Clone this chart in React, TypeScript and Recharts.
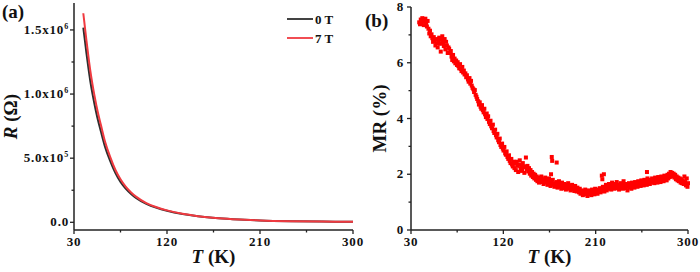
import React from 'react'
import {
  LineChart,
  Line,
  ScatterChart,
  Scatter,
  XAxis,
  YAxis,
  Legend,
  Label,
} from 'recharts'

// panel (a): R(T) at 0 T and 7 T
const rTemps = [39, 40, 42, 44, 46, 48, 50, 53, 56, 60, 65, 70, 75, 80, 85, 90, 100, 110, 120, 135, 150, 170, 190, 210, 240, 270, 300]
const rZeroField = [1518000, 1453000, 1322000, 1201000, 1090000, 997000, 915000, 803000, 710000, 590000, 478000, 385000, 314000, 263000, 223000, 190000, 144000, 113000, 90000, 64500, 47000, 31500, 21700, 14800, 8900, 5900, 3900]
const rSevenField = [1630000, 1560000, 1420000, 1290000, 1170000, 1070000, 980000, 860000, 760000, 630000, 510000, 410000, 335000, 278000, 235000, 200000, 150000, 117000, 93000, 66000, 48000, 32000, 22000, 15000, 9000, 6000, 4000]

// panel (b): MR(T) as [T, MR]
const mrLow: [number, number][] = [
  [38.0, 7.45], [38.8, 7.38], [39.5, 7.55], [40.2, 7.42], [41.0, 7.6], [41.8, 7.48], [42.5, 7.35], [43.2, 7.52],
  [44.0, 7.58], [44.8, 7.4], [45.5, 7.3], [46.2, 7.5], [47.0, 7.22], [47.8, 7.05], [48.5, 7.15], [49.2, 6.95],
  [50.0, 7.02], [50.8, 6.88], [51.5, 6.75], [52.2, 6.92], [53.0, 6.8], [53.8, 6.62], [54.5, 6.85], [55.2, 6.7],
  [56.0, 6.55], [56.8, 6.78], [57.5, 6.9], [58.2, 6.68], [59.0, 6.4], [59.8, 6.82], [60.5, 6.95], [61.2, 6.72],
  [62.0, 6.6], [62.8, 6.85], [63.5, 6.48], [64.2, 6.75], [65.0, 6.62], [65.8, 6.35], [66.5, 6.55],
  [67.2, 6.5], [68.0, 6.35], [68.8, 6.42], [69.5, 6.22], [70.2, 6.1], [71.0, 6.28], [71.8, 6.05], [72.5, 6.15],
  [73.2, 5.98], [74.0, 6.08], [74.8, 5.92], [75.5, 6.02], [76.2, 5.88], [77.0, 5.8], [77.8, 5.95], [78.5, 5.78],
  [79.2, 5.7], [80.0, 5.85], [80.8, 5.65], [81.5, 5.72], [82.2, 5.58], [83.0, 5.62], [83.8, 5.48], [84.5, 5.55],
  [85.5, 5.4], [86.2, 5.32], [87.0, 5.45], [87.8, 5.25], [88.5, 5.35], [89.2, 5.18], [90.0, 5.1], [90.8, 5.05],
  [91.5, 4.95], [92.2, 5.02], [93.0, 4.85], [93.8, 4.78], [94.5, 4.7],
]
const mrMid: [number, number][] = [
  [95.5, 4.62], [96.2, 4.5], [97.0, 4.58], [97.8, 4.42], [98.5, 4.35], [99.2, 4.48], [100.0, 4.3], [100.8, 4.22],
  [101.5, 4.35], [102.2, 4.15], [103.0, 4.05], [103.8, 4.18], [104.5, 3.98], [105.2, 4.08], [106.0, 3.88], [106.8, 3.8],
  [107.5, 3.92], [108.2, 3.72], [109.0, 3.65], [109.8, 3.78], [110.5, 3.55], [111.2, 3.48], [112.0, 3.6], [112.8, 3.4],
  [113.5, 3.32], [114.2, 3.45], [115.0, 3.22], [115.8, 3.15], [116.5, 3.28], [117.2, 3.05], [118.0, 2.98], [118.8, 3.1],
  [119.5, 2.92], [120.2, 2.85], [121.0, 2.98], [121.8, 2.75], [122.5, 2.7], [123.2, 2.82], [124.0, 2.62], [124.8, 2.55],
  [125.5, 2.68], [126.2, 2.48], [127.0, 2.4], [127.8, 2.55], [128.5, 2.35], [129.2, 2.28], [130.0, 2.45],
  [130.8, 2.22], [131.5, 2.38], [132.2, 2.15], [133.0, 2.45], [133.8, 2.3], [134.5, 2.08], [135.2, 2.35], [136.0, 2.5],
  [136.8, 2.2], [137.5, 2.32], [138.2, 2.12], [139.0, 2.4], [139.8, 2.25], [140.5, 2.05], [141.2, 2.28], [142.0, 2.6],
  [142.8, 2.18], [143.5, 2.3], [144.2, 2.1], [145.0, 2.22], [145.8, 2.02], [146.5, 2.15], [147.2, 1.95], [148.0, 2.08],
  [148.8, 1.9], [149.5, 2.02], [150.2, 1.85], [151.0, 1.98], [151.8, 1.8], [152.5, 1.92], [153.2, 1.75], [154.0, 1.88],
  [154.8, 1.7], [155.5, 1.85], [156.2, 1.78], [157.0, 1.92], [157.8, 1.72], [158.5, 1.82], [159.2, 1.65], [160.0, 1.8],
  [160.8, 1.88], [161.5, 1.7], [162.2, 1.78], [163.0, 1.62], [163.8, 1.75], [164.5, 1.85], [165.2, 1.68], [166.0, 1.58],
  [166.8, 1.72], [167.5, 1.65], [168.2, 1.8], [169.0, 1.62], [169.8, 1.55],
  [170.5, 1.68], [171.2, 1.58], [172.0, 1.72], [172.8, 1.52], [173.5, 1.65], [174.2, 1.75], [175.0, 1.55], [175.8, 1.62],
  [176.5, 1.48], [177.2, 1.7], [178.0, 1.58], [178.8, 1.5], [179.5, 1.65], [180.2, 1.55], [181.0, 1.45], [181.8, 1.62],
  [182.5, 1.52], [183.2, 1.68], [184.0, 1.48], [184.8, 1.58], [185.5, 1.42], [186.2, 1.55], [187.0, 1.62], [187.8, 1.45],
  [188.5, 1.52], [189.2, 1.4], [190.0, 1.58], [190.8, 1.48], [191.5, 1.38], [192.2, 1.52], [193.0, 1.42], [193.8, 1.35],
  [194.5, 1.48], [195.2, 1.3], [196.0, 1.42], [196.8, 1.35], [197.5, 1.25], [198.2, 1.4], [199.0, 1.32], [199.8, 1.45],
  [200.5, 1.28], [201.2, 1.38], [202.0, 1.22], [202.8, 1.35], [203.5, 1.42], [204.2, 1.28], [205.0, 1.38], [205.8, 1.25],
  [206.5, 1.45], [207.2, 1.32], [208.0, 1.4], [208.8, 1.28], [209.5, 1.48], [210.2, 1.35], [211.0, 1.42], [211.8, 1.3],
  [212.5, 1.45], [213.2, 1.38], [214.0, 1.5], [214.8, 1.35],
]
const mrHigh: [number, number][] = [
  [215.5, 1.48], [216.2, 1.4], [217.0, 1.55], [217.8, 1.45], [218.5, 1.38], [219.2, 1.52], [220.0, 1.62], [220.8, 1.42],
  [221.5, 1.55], [222.2, 1.48], [223.0, 1.65], [223.8, 1.5], [224.5, 1.58], [225.2, 1.45], [226.0, 1.7], [226.8, 1.52],
  [227.5, 1.6], [228.2, 1.48], [229.0, 1.65], [229.8, 1.55], [230.5, 1.72], [231.2, 1.5], [232.0, 1.62], [232.8, 1.45],
  [233.5, 1.58], [234.2, 1.68], [235.0, 1.52], [235.8, 1.62], [236.5, 1.48], [237.2, 1.75], [238.0, 1.55], [238.8, 1.65],
  [239.5, 1.5], [240.2, 1.6], [241.0, 1.42], [241.8, 1.58], [242.5, 1.68], [243.2, 1.52], [244.0, 1.62], [244.8, 1.48],
  [245.5, 1.7], [246.2, 1.58], [247.0, 1.65], [247.8, 1.52], [248.5, 1.72], [249.2, 1.6], [250.0, 1.68], [250.8, 1.55],
  [251.5, 1.75], [252.2, 1.62], [253.0, 1.7], [253.8, 1.58], [254.5, 1.78], [255.2, 1.65], [256.0, 1.72], [256.8, 1.6],
  [257.5, 1.8], [258.2, 1.68], [259.0, 1.75], [259.8, 1.62], [260.5, 1.85], [261.2, 1.72], [262.0, 1.8], [262.8, 1.65],
  [263.5, 1.78], [264.2, 1.7], [265.0, 1.85], [265.8, 1.72], [266.5, 1.8], [267.2, 1.68], [268.0, 1.88], [268.8, 1.75],
  [269.5, 1.82], [270.2, 1.7], [271.0, 1.9], [271.8, 1.78], [272.5, 1.85], [273.2, 1.72], [274.0, 1.92], [274.8, 1.8],
  [275.5, 1.88], [276.2, 1.75], [277.0, 1.95], [277.8, 1.82], [278.5, 1.9], [279.2, 1.78], [280.0, 1.98], [280.8, 1.85],
  [281.5, 2.02], [282.2, 1.9], [283.0, 2.08], [283.8, 1.95], [284.5, 2.05], [285.2, 1.92], [286.0, 2.02], [286.8, 1.88],
  [287.5, 1.98], [288.2, 1.82], [289.0, 1.92], [289.8, 1.78], [290.5, 1.88], [291.2, 1.75], [292.0, 1.85], [292.8, 1.7],
  [293.5, 1.82], [294.2, 1.68], [295.0, 1.78], [295.8, 1.65], [296.5, 1.92], [297.2, 1.72], [298.0, 1.6], [298.8, 1.85],
  [299.5, 1.55], [300.0, 1.68],
]
const mrOutliers: [number, number][] = [
  [166.5, 2.0], [167.2, 2.62], [167.6, 2.48], [172.0, 2.42], [216.0, 1.95], [216.5, 1.82], [218.0, 2.0], [260.0, 2.08],
]

const tMajor = [30, 120, 210, 300]
const tTicks = [30, 75, 120, 165, 210, 255, 300]
const rTicks = [0, 250000, 500000, 750000, 1000000, 1250000, 1500000]
const rLabels: Record<number, [string, string]> = {
  0: ['0.0', ''],
  500000: ['5.0x10', '5'],
  1000000: ['1.0x10', '6'],
  1500000: ['1.5x10', '6'],
}
const mrTicks = [0, 1, 2, 3, 4, 5, 6, 7, 8]

const AXIS = '#222'
const txt = { fontFamily: 'Liberation Serif', fontWeight: 700, fill: '#111' }
const tickTxt = { ...txt, fontSize: 13, letterSpacing: 0.8 }

const rData = rTemps.map((T, i) => ({ T, r0: rZeroField[i], r7: rSevenField[i] }))
const mrData = [...mrLow, ...mrMid, ...mrHigh, ...mrOutliers].map(([T, MR]) => ({ T, MR }))

function TTick({ x, y, payload }: any) {
  const major = tMajor.includes(payload.value)
  return (
    <g>
      <line x1={x} y1={y} x2={x} y2={y + (major ? 4 : 2.5)} stroke={AXIS} strokeWidth={1.3} />
      {major && (
        <text x={x} y={y + 16} textAnchor="middle" style={tickTxt}>
          {payload.value}
        </text>
      )}
    </g>
  )
}

function RTick({ x, y, payload }: any) {
  const lab = rLabels[payload.value]
  return (
    <g>
      <line x1={x} y1={y} x2={x - (lab ? 4 : 2.5)} y2={y} stroke={AXIS} strokeWidth={1.3} />
      {lab && (
        <text x={x - 5} y={y + 4} textAnchor="end" style={tickTxt}>
          {lab[0]}
          {lab[1] && (
            <tspan style={{ fontSize: 8 }} dy={-5}>
              {lab[1]}
            </tspan>
          )}
        </text>
      )}
    </g>
  )
}

function MrTick({ x, y, payload }: any) {
  const major = payload.value % 2 === 0
  return (
    <g>
      <line x1={x} y1={y} x2={x - (major ? 4 : 2.5)} y2={y} stroke={AXIS} strokeWidth={1.3} />
      {major && (
        <text x={x - 7} y={y + 4} textAnchor="end" style={tickTxt}>
          {payload.value}
        </text>
      )}
    </g>
  )
}

function LegendBox({ payload }: any) {
  return (
    <svg width={60} height={40}>
      {(payload || []).map((p: any, i: number) => (
        <g key={p.value}>
          <line x1={2} x2={28} y1={11 + i * 19} y2={11 + i * 19} stroke={p.color} strokeWidth={1.8} />
          <text x={30} y={15.5 + i * 19} style={{ ...txt, fontSize: 13 }}>
            {p.value}
          </text>
        </g>
      ))}
    </svg>
  )
}

const square = (p: any) => <rect x={p.cx - 2} y={p.cy - 2} width={4} height={4} fill="#ff0000" />

function TTitle({ viewBox }: any) {
  return (
    <text x={viewBox.x + viewBox.width / 2} y={viewBox.y + 33} textAnchor="middle" style={{ ...txt, fontSize: 19 }}>
      <tspan style={{ fontStyle: 'italic' }}>T</tspan> (K)
    </text>
  )
}

export default function App() {
  return (
    <div style={{ position: 'absolute', left: 0, top: 0, width: 700, height: 272, background: '#fff' }}>
      <div style={{ position: 'absolute', left: 0, top: 0 }}>
        <LineChart width={372} height={272} data={rData} margin={{ top: 3, right: 19, bottom: 0, left: 0 }}>
          <XAxis
            type="number"
            dataKey="T"
            domain={[30, 300]}
            ticks={tTicks}
            interval={0}
            height={42}
            tickSize={0}
            tickMargin={0}
            tickLine={false}
            axisLine={{ stroke: AXIS, strokeWidth: 1.5 }}
            tick={(p: any) => <TTick {...p} />}
          >
            <Label content={(p: any) => <TTitle {...p} />} />
          </XAxis>
          <XAxis xAxisId="top" orientation="top" type="number" domain={[30, 300]} height={0} tick={false} tickLine={false} axisLine={{ stroke: AXIS, strokeWidth: 1.5 }} />
          <YAxis
            type="number"
            domain={[-60000, 1710000]}
            ticks={rTicks}
            interval={0}
            width={74}
            tickSize={0}
            tickMargin={0}
            tickLine={false}
            axisLine={{ stroke: AXIS, strokeWidth: 1.5 }}
            tick={(p: any) => <RTick {...p} />}
          >
            <Label
              content={({ viewBox }: any) => (
                <g>
                  <text transform={`translate(17, ${viewBox.y + viewBox.height / 2}) rotate(-90)`} textAnchor="middle" style={{ ...txt, fontSize: 19 }}>
                    <tspan style={{ fontStyle: 'italic' }}>R</tspan> (Ω)
                  </text>
                  <text x={2} y={18} style={{ ...txt, fontSize: 19 }}>
                    (a)
                  </text>
                </g>
              )}
            />
          </YAxis>
          <YAxis yAxisId="right" orientation="right" type="number" domain={[-60000, 1710000]} width={0} tick={false} tickLine={false} axisLine={{ stroke: AXIS, strokeWidth: 1.5 }} />
          <Legend
            layout="vertical"
            verticalAlign="middle"
            align="center"
            content={(p: any) => <LegendBox {...p} />}
            wrapperStyle={{ position: 'absolute', top: 8, left: 285, width: 60, height: 40 }}
          />
          <Line type="monotone" dataKey="r0" name="0 T" stroke="#2e2e2e" strokeWidth={2} dot={false} isAnimationActive={false} />
          <Line type="monotone" dataKey="r7" name="7 T" stroke="#f03a40" strokeWidth={2} dot={false} isAnimationActive={false} />
        </LineChart>
      </div>
      <div style={{ position: 'absolute', left: 350, top: 0 }}>
        <ScatterChart width={350} height={272} margin={{ top: 7, right: 12, bottom: 0, left: 0 }}>
          <XAxis
            type="number"
            dataKey="T"
            domain={[30, 300]}
            ticks={tTicks}
            interval={0}
            height={42}
            tickSize={0}
            tickMargin={0}
            tickLine={false}
            axisLine={{ stroke: AXIS, strokeWidth: 1.5 }}
            tick={(p: any) => <TTick {...p} />}
          >
            <Label content={(p: any) => <TTitle {...p} />} />
          </XAxis>
          <XAxis xAxisId="top" orientation="top" type="number" domain={[30, 300]} height={0} tick={false} tickLine={false} axisLine={{ stroke: AXIS, strokeWidth: 1.5 }} />
          <YAxis
            type="number"
            dataKey="MR"
            domain={[0, 8]}
            ticks={mrTicks}
            interval={0}
            width={61}
            tickSize={0}
            tickMargin={0}
            tickLine={false}
            axisLine={{ stroke: AXIS, strokeWidth: 1.5 }}
            tick={(p: any) => <MrTick {...p} />}
          >
            <Label
              content={({ viewBox }: any) => (
                <g>
                  <text transform={`translate(36, ${viewBox.y + viewBox.height / 2}) rotate(-90)`} textAnchor="middle" style={{ ...txt, fontSize: 19 }}>
                    MR (%)
                  </text>
                  <text x={15} y={27} style={{ ...txt, fontSize: 19 }}>
                    (b)
                  </text>
                </g>
              )}
            />
          </YAxis>
          <YAxis yAxisId="right" orientation="right" type="number" domain={[0, 8]} width={0} tick={false} tickLine={false} axisLine={{ stroke: AXIS, strokeWidth: 1.5 }} />
          <Scatter data={mrData} shape={square} isAnimationActive={false} />
        </ScatterChart>
      </div>
    </div>
  )
}
